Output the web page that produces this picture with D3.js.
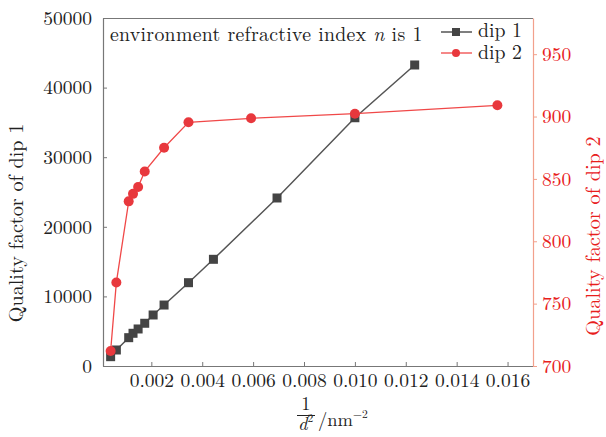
<!DOCTYPE html>
<html><head><meta charset="utf-8">
<script src="https://cdn.jsdelivr.net/npm/d3@7"></script>
</head>
<body style="margin:0;background:#fff"><svg id="c" width="606" height="437"></svg>
<script>
const dip1X = [0.0004,0.000625,0.00111,0.00128,0.00148,0.00174,0.00207,0.0025,0.00346,0.00444,0.00694,0.01,0.01235];
const dip1Q = [1340,2300,4070,4700,5320,6140,7330,8760,11970,15330,24140,35670,43250];
const dip2X = [0.0004,0.000625,0.00111,0.00128,0.00148,0.00174,0.0025,0.00346,0.00592,0.01,0.0156];
const dip2Q = [712,767,832,838,843.5,856,875,895.4,898.6,902.3,909];
const xTicks = [0.002,0.004,0.006,0.008,0.010,0.012,0.014,0.016];
const yLeftTicks = [0,10000,20000,30000,40000,50000];
const yRightTicks = [700,750,800,850,900,950];

const FF = "'Latin Modern Roman','Liberation Serif',serif";
const FS = 19.5;
const svg = d3.select("#c");
const L=103,R=533,T=18,B=366;
const x = d3.scaleLinear().domain([0.0001,0.017]).range([L,R]);
const yL = d3.scaleLinear().domain([0,50000]).range([B,T]);
const yR = d3.scaleLinear().domain([700,979]).range([B,T]);
const axisCol="#777", redTxt="#e8201c", redAx="#f2a08c", txt="#222";

function styleText(sel, col, fs, ls){
  sel.style("font-family",FF).style("font-size",(fs||FS)+"px").attr("fill",col);
  if (ls) sel.style("letter-spacing",ls+"px");
  return sel;
}

svg.append("line").attr("x1",L).attr("x2",R).attr("y1",T+0.5).attr("y2",T+0.5).attr("stroke",axisCol).attr("stroke-width",1.2);

const gx = svg.append("g").attr("transform",`translate(0,${B})`)
  .call(d3.axisBottom(x).tickValues(xTicks).tickFormat(d3.format(".3f")).tickSizeInner(-4).tickSizeOuter(0).tickPadding(7.5));
gx.select(".domain").attr("stroke",axisCol).attr("stroke-width",1.2);
gx.selectAll(".tick line").attr("stroke",axisCol);
styleText(gx.selectAll("text"), txt);

const gl = svg.append("g").attr("transform",`translate(${L},0)`)
  .call(d3.axisLeft(yL).tickValues(yLeftTicks).tickFormat(d3.format("d")).tickSizeInner(-4).tickSizeOuter(0).tickPadding(11));
gl.select(".domain").attr("stroke",axisCol).attr("stroke-width",1.2);
gl.selectAll(".tick line").attr("stroke",axisCol);
styleText(gl.selectAll("text"), txt);

const gr = svg.append("g").attr("transform",`translate(${R},0)`)
  .call(d3.axisRight(yR).tickValues(yRightTicks).tickFormat(d3.format("d")).tickSizeInner(4).tickSizeOuter(0).tickPadding(5));
gr.select(".domain").attr("stroke",redAx).attr("stroke-width",1.2);
gr.selectAll(".tick line").attr("stroke",redAx);
styleText(gr.selectAll("text"), redTxt);

const d1 = dip1X.map((v,i)=>[v,dip1Q[i]]);
svg.append("path").datum(d1).attr("fill","none").attr("stroke","#555").attr("stroke-width",1.5)
  .attr("d",d3.line().x(d=>x(d[0])).y(d=>yL(d[1])));
svg.selectAll(".sq").data(d1).enter().append("rect")
  .attr("x",d=>x(d[0])-4.5).attr("y",d=>yL(d[1])-4.5).attr("width",9).attr("height",9).attr("fill","#444");

const d2 = dip2X.map((v,i)=>[v,dip2Q[i]]);
svg.append("path").datum(d2).attr("fill","none").attr("stroke","#f04848").attr("stroke-width",1.3)
  .attr("d",d3.line().x(d=>x(d[0])).y(d=>yR(d[1])));
svg.selectAll(".ci").data(d2).enter().append("circle")
  .attr("cx",d=>x(d[0])).attr("cy",d=>yR(d[1])).attr("r",5).attr("fill","#e8383d");

const t = svg.append("text").attr("x",110).attr("y",41);
styleText(t, txt, 19.8, 0.3);
t.append("tspan").text("environment refractive index ");
t.append("tspan").style("font-style","italic").text("n");
t.append("tspan").text(" is 1");

const lg = svg.append("g");
lg.append("line").attr("x1",441).attr("x2",472).attr("y1",32).attr("y2",32).attr("stroke","#555").attr("stroke-width",1.5);
lg.append("rect").attr("x",452).attr("y",28).attr("width",8).attr("height",8).attr("fill","#444");
styleText(lg.append("text").attr("x",478).attr("y",36.5).text("dip 1"), txt, 19.8);
lg.append("line").attr("x1",441).attr("x2",472).attr("y1",53).attr("y2",53).attr("stroke","#f04848").attr("stroke-width",1.3);
lg.append("circle").attr("cx",456).attr("cy",53).attr("r",4).attr("fill","#e8383d");
styleText(lg.append("text").attr("x",478).attr("y",59).text("dip 2"), txt, 19.8);

styleText(svg.append("text").attr("transform","translate(23,223) rotate(-90)").attr("text-anchor","middle")
  .text("Quality factor of dip 1"), txt, 20.2);
styleText(svg.append("text").attr("transform","translate(600,236) rotate(-90)").attr("text-anchor","middle")
  .text("Quality factor of dip 2"), redTxt, 20.3);

const xl = svg.append("g");
styleText(xl.append("text").attr("x",306).attr("y",410).attr("text-anchor","middle").text("1"), txt, 18.5);
xl.append("line").attr("x1",297).attr("x2",315).attr("y1",415.5).attr("y2",415.5).attr("stroke","#222").attr("stroke-width",1);
const dt = xl.append("text").attr("x",298).attr("y",430);
styleText(dt, txt, 18.5);
dt.append("tspan").style("font-style","italic").text("d");
dt.append("tspan").style("font-size","11.5px").attr("dy",-8).text("2");
const nt = xl.append("text").attr("x",318).attr("y",426);
styleText(nt, txt, 18.5);
nt.append("tspan").text("/nm");
nt.append("tspan").style("font-size","11.5px").attr("dy",-8).text("−2");
</script></body></html>
